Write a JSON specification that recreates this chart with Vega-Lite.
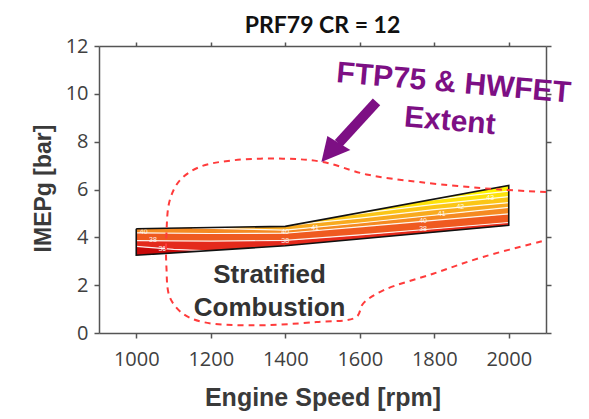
{
  "$schema": "https://vega.github.io/schema/vega-lite/v6.json",
  "width": 447,
  "height": 287,
  "autosize": {"type": "none"},
  "padding": {"left": 99, "top": 46, "right": 43, "bottom": 86},
  "background": "white",
  "config": {"view": {"stroke": null}, "axis": {"grid": false, "labelFlush": false, "labelOverlap": false}},
  "title": {"text": "PRF79 CR = 12", "font": "Lato", "fontSize": 23, "fontWeight": "bold", "color": "#111111", "anchor": "middle", "offset": -2},
  "datasets": {
    "bands": [
      {"band": "b0", "x": 1000, "y": 3.25, "y2": 3.62},
      {"band": "b0", "x": 1100, "y": 3.35, "y2": 3.5},
      {"band": "b0", "x": 1190, "y": 3.44, "y2": 3.44},
      {"band": "b1", "x": 1000, "y": 3.62, "y2": 3.86},
      {"band": "b1", "x": 1100, "y": 3.5, "y2": 3.85},
      {"band": "b1", "x": 1190, "y": 3.44, "y2": 3.842},
      {"band": "b1", "x": 1400, "y": 3.65, "y2": 3.87},
      {"band": "b1", "x": 1600, "y": 3.933, "y2": 4.1},
      {"band": "b1", "x": 1800, "y": 4.217, "y2": 4.36},
      {"band": "b1", "x": 2000, "y": 4.5, "y2": 4.62},
      {"band": "b2", "x": 1000, "y": 3.86, "y2": 4.19},
      {"band": "b2", "x": 1200, "y": 3.84, "y2": 4.16},
      {"band": "b2", "x": 1400, "y": 3.87, "y2": 4.17},
      {"band": "b2", "x": 1600, "y": 4.1, "y2": 4.44},
      {"band": "b2", "x": 1800, "y": 4.36, "y2": 4.71},
      {"band": "b2", "x": 2000, "y": 4.62, "y2": 4.98},
      {"band": "b3", "x": 1000, "y": 4.19, "y2": 4.36},
      {"band": "b3", "x": 1150, "y": 4.168, "y2": 4.3975},
      {"band": "b3", "x": 1400, "y": 4.17, "y2": 4.3},
      {"band": "b3", "x": 1600, "y": 4.44, "y2": 4.6},
      {"band": "b3", "x": 1800, "y": 4.71, "y2": 4.925},
      {"band": "b3", "x": 2000, "y": 4.98, "y2": 5.25},
      {"band": "b4", "x": 1150, "y": 4.3975, "y2": 4.3975},
      {"band": "b4", "x": 1400, "y": 4.3, "y2": 4.46},
      {"band": "b4", "x": 1420, "y": 4.33, "y2": 4.517},
      {"band": "b4", "x": 1600, "y": 4.6, "y2": 4.8},
      {"band": "b4", "x": 1800, "y": 4.925, "y2": 5.16},
      {"band": "b4", "x": 2000, "y": 5.25, "y2": 5.45},
      {"band": "b5", "x": 1420, "y": 4.517, "y2": 4.517},
      {"band": "b5", "x": 1560, "y": 4.737, "y2": 4.916},
      {"band": "b5", "x": 1600, "y": 4.8, "y2": 4.993},
      {"band": "b5", "x": 1800, "y": 5.16, "y2": 5.38},
      {"band": "b5", "x": 2000, "y": 5.45, "y2": 5.7},
      {"band": "b6", "x": 1560, "y": 4.916, "y2": 4.916},
      {"band": "b6", "x": 1600, "y": 4.993, "y2": 5.03},
      {"band": "b6", "x": 1780, "y": 5.341, "y2": 5.543},
      {"band": "b6", "x": 1800, "y": 5.38, "y2": 5.578},
      {"band": "b6", "x": 2000, "y": 5.7, "y2": 5.93},
      {"band": "b7", "x": 1780, "y": 5.543, "y2": 5.543},
      {"band": "b7", "x": 1800, "y": 5.578, "y2": 5.6},
      {"band": "b7", "x": 2000, "y": 5.93, "y2": 6.17}
    ],
    "contours": [
      {"level": "36", "x": 1000, "y": 3.62},
      {"level": "36", "x": 1100, "y": 3.5},
      {"level": "36", "x": 1190, "y": 3.44},
      {"level": "38", "x": 1000, "y": 3.86},
      {"level": "38", "x": 1200, "y": 3.84},
      {"level": "38", "x": 1400, "y": 3.87},
      {"level": "38", "x": 1600, "y": 4.1},
      {"level": "38", "x": 1800, "y": 4.36},
      {"level": "38", "x": 2000, "y": 4.62},
      {"level": "40", "x": 1000, "y": 4.19},
      {"level": "40", "x": 1200, "y": 4.16},
      {"level": "40", "x": 1400, "y": 4.17},
      {"level": "40", "x": 1600, "y": 4.44},
      {"level": "40", "x": 1800, "y": 4.71},
      {"level": "40", "x": 2000, "y": 4.98},
      {"level": "41", "x": 1150, "y": 4.3975},
      {"level": "41", "x": 1400, "y": 4.3},
      {"level": "41", "x": 1600, "y": 4.6},
      {"level": "41", "x": 2000, "y": 5.25},
      {"level": "42", "x": 1420, "y": 4.517},
      {"level": "42", "x": 1600, "y": 4.8},
      {"level": "42", "x": 1800, "y": 5.16},
      {"level": "42", "x": 2000, "y": 5.45},
      {"level": "43", "x": 1560, "y": 4.916},
      {"level": "43", "x": 1800, "y": 5.38},
      {"level": "43", "x": 2000, "y": 5.7},
      {"level": "44", "x": 1780, "y": 5.543},
      {"level": "44", "x": 2000, "y": 5.93}
    ],
    "outline": [
      {"i": 0, "x": 1000, "y": 4.36},
      {"i": 1, "x": 1400, "y": 4.46},
      {"i": 2, "x": 2000, "y": 6.17},
      {"i": 3, "x": 2000, "y": 4.5},
      {"i": 4, "x": 1400, "y": 3.65},
      {"i": 5, "x": 1000, "y": 3.25},
      {"i": 6, "x": 1000, "y": 4.36}
    ],
    "clabels": [
      {"t": "40", "x": 1020, "y": 4.22},
      {"t": "38", "x": 1045, "y": 3.87},
      {"t": "36", "x": 1070, "y": 3.53},
      {"t": "40", "x": 1400, "y": 4.22},
      {"t": "38", "x": 1400, "y": 3.85},
      {"t": "41", "x": 1480, "y": 4.4},
      {"t": "38", "x": 1770, "y": 4.33},
      {"t": "40", "x": 1770, "y": 4.7},
      {"t": "41", "x": 1820, "y": 4.97},
      {"t": "42", "x": 1870, "y": 5.27},
      {"t": "43", "x": 1950, "y": 5.66}
    ],
    "extent": [
      {"i": 1, "x": 2100, "y": 5.9},
      {"i": 2, "x": 1976, "y": 6.0},
      {"i": 3, "x": 1761, "y": 6.31},
      {"i": 4, "x": 1618, "y": 6.63},
      {"i": 5, "x": 1501, "y": 7.15},
      {"i": 6, "x": 1394, "y": 7.29},
      {"i": 7, "x": 1260, "y": 7.22},
      {"i": 8, "x": 1170, "y": 6.94},
      {"i": 9, "x": 1117, "y": 6.38},
      {"i": 10, "x": 1090, "y": 5.55},
      {"i": 11, "x": 1081, "y": 4.15},
      {"i": 12, "x": 1081, "y": 2.76},
      {"i": 13, "x": 1090, "y": 1.5},
      {"i": 14, "x": 1125, "y": 0.81},
      {"i": 15, "x": 1179, "y": 0.46},
      {"i": 16, "x": 1305, "y": 0.32},
      {"i": 17, "x": 1484, "y": 0.46},
      {"i": 18, "x": 1591, "y": 0.67},
      {"i": 19, "x": 1609, "y": 1.23},
      {"i": 20, "x": 1663, "y": 1.78},
      {"i": 21, "x": 1797, "y": 2.48},
      {"i": 22, "x": 1931, "y": 3.18},
      {"i": 23, "x": 2100, "y": 3.88}
    ],
    "shaft": [{"x": 1645, "y": 9.66, "x2": 1543, "y2": 7.93}],
    "tip": [{"x": 1497, "y": 7.15}],
    "purple": [
      {"t": "FTP75 & HWFET", "x": 1852, "y": 10.44},
      {"t": "Extent", "x": 1842, "y": 8.85}
    ],
    "dark": [
      {"t": "Stratified", "x": 1358, "y": 2.07},
      {"t": "Combustion", "x": 1358, "y": 0.72}
    ]
  },
  "layer": [
    {
      "data": {"name": "bands"},
      "mark": {"type": "area", "interpolate": "linear"},
      "encoding": {
        "x": {"field": "x", "type": "quantitative", "scale": {"domain": [900, 2100], "nice": false, "zero": false},
          "axis": {"orient": "bottom", "values": [1000, 1200, 1400, 1600, 1800, 2000], "format": "d", "labelFont": "Open Sans", "labelFontSize": 20, "labelColor": "#404040", "labelBaseline": "alphabetic", "labelPadding": 27, "tickSize": 5, "tickColor": "#555555", "tickWidth": 1.5, "domainColor": "#555555", "domainWidth": 1.5, "title": "Engine Speed [rpm]", "titleFont": "Liberation Sans", "titleFontSize": 25, "titleFontWeight": "bold", "titleColor": "#3a3a3a", "titleBaseline": "alphabetic", "titleY": 72, "titleX": 223.5, "titleAlign": "center"}},
        "y": {"field": "y", "type": "quantitative", "stack": null, "scale": {"domain": [0, 12], "nice": false, "zero": false},
          "axis": {"orient": "left", "values": [0, 2, 4, 6, 8, 10, 12], "labelFont": "Open Sans", "labelFontSize": 20, "labelColor": "#404040", "labelPadding": 6, "tickSize": 5, "tickColor": "#555555", "tickWidth": 1.5, "domainColor": "#555555", "domainWidth": 1.5, "title": "IMEPg [bar]", "titleFont": "Liberation Sans", "titleFontSize": 23, "titleFontWeight": "bold", "titleColor": "#3a3a3a", "titleAngle": -90, "titleBaseline": "alphabetic", "titleAlign": "center", "titleX": -49, "titleY": 142}},
        "y2": {"field": "y2"},
        "color": {"field": "band", "type": "nominal", "legend": null,
          "scale": {"domain": ["b0", "b1", "b2", "b3", "b4", "b5", "b6", "b7"], "range": ["#c80a0a", "#e42a1c", "#ef5a20", "#f58a22", "#f8aa1e", "#fbc616", "#fde20c", "#fff500"]}}
      }
    },
    {
      "data": {"name": "contours"},
      "mark": {"type": "line", "color": "#ffffff", "strokeWidth": 1.2, "opacity": 0.9},
      "encoding": {
        "x": {"field": "x", "type": "quantitative", "scale": {"domain": [900, 2100], "nice": false, "zero": false},
          "axis": {"orient": "top", "values": [1000, 1200, 1400, 1600, 1800, 2000], "labels": false, "title": null, "tickSize": 4, "tickColor": "#555555", "tickWidth": 1.5, "domainColor": "#555555", "domainWidth": 1.5}},
        "y": {"field": "y", "type": "quantitative", "scale": {"domain": [0, 12], "nice": false, "zero": false},
          "axis": {"orient": "right", "values": [0, 2, 4, 6, 8, 10, 12], "labels": false, "title": null, "tickSize": 5, "tickColor": "#555555", "tickWidth": 1.5, "domainColor": "#555555", "domainWidth": 1.5}},
        "detail": {"field": "level", "type": "nominal"}
      }
    },
    {
      "data": {"name": "clabels"},
      "mark": {"type": "text", "color": "#ffffff", "fontSize": 7, "font": "Liberation Sans", "opacity": 0.9},
      "encoding": {
        "x": {"field": "x", "type": "quantitative", "scale": {"domain": [900, 2100], "nice": false, "zero": false}, "axis": null},
        "y": {"field": "y", "type": "quantitative", "scale": {"domain": [0, 12], "nice": false, "zero": false}, "axis": null},
        "text": {"field": "t"}
      }
    },
    {
      "data": {"name": "outline"},
      "mark": {"type": "line", "color": "#111111", "strokeWidth": 1.6, "strokeJoin": "miter"},
      "encoding": {
        "x": {"field": "x", "type": "quantitative", "scale": {"domain": [900, 2100], "nice": false, "zero": false}, "axis": null},
        "y": {"field": "y", "type": "quantitative", "scale": {"domain": [0, 12], "nice": false, "zero": false}, "axis": null},
        "order": {"field": "i", "type": "quantitative"}
      }
    },
    {
      "data": {"name": "extent"},
      "mark": {"type": "line", "color": "#ff3b3b", "strokeWidth": 2, "strokeDash": [6, 5], "interpolate": "catmull-rom"},
      "encoding": {
        "x": {"field": "x", "type": "quantitative", "scale": {"domain": [900, 2100], "nice": false, "zero": false}, "axis": null},
        "y": {"field": "y", "type": "quantitative", "scale": {"domain": [0, 12], "nice": false, "zero": false}, "axis": null},
        "order": {"field": "i", "type": "quantitative"}
      }
    },
    {
      "data": {"name": "shaft"},
      "mark": {"type": "rule", "color": "#7d0f84", "strokeWidth": 10, "strokeCap": "butt"},
      "encoding": {
        "x": {"field": "x", "type": "quantitative", "scale": {"domain": [900, 2100], "nice": false, "zero": false}, "axis": null},
        "y": {"field": "y", "type": "quantitative", "scale": {"domain": [0, 12], "nice": false, "zero": false}, "axis": null},
        "x2": {"field": "x2"},
        "y2": {"field": "y2"}
      }
    },
    {
      "data": {"name": "tip"},
      "mark": {"type": "point", "shape": "M0,0 L6,-26 L29,-12 Z", "size": 4, "filled": true, "color": "#7d0f84", "opacity": 1},
      "encoding": {
        "x": {"field": "x", "type": "quantitative", "scale": {"domain": [900, 2100], "nice": false, "zero": false}, "axis": null},
        "y": {"field": "y", "type": "quantitative", "scale": {"domain": [0, 12], "nice": false, "zero": false}, "axis": null}
      }
    },
    {
      "data": {"name": "purple"},
      "mark": {"type": "text", "color": "#7d0f84", "font": "Liberation Sans", "fontWeight": "bold", "fontSize": 30, "angle": 5, "align": "center", "baseline": "middle"},
      "encoding": {
        "x": {"field": "x", "type": "quantitative", "scale": {"domain": [900, 2100], "nice": false, "zero": false}, "axis": null},
        "y": {"field": "y", "type": "quantitative", "scale": {"domain": [0, 12], "nice": false, "zero": false}, "axis": null},
        "text": {"field": "t"}
      }
    },
    {
      "data": {"name": "dark"},
      "mark": {"type": "text", "color": "#333333", "font": "Liberation Sans", "fontWeight": "bold", "fontSize": 26, "align": "center", "baseline": "alphabetic"},
      "encoding": {
        "x": {"field": "x", "type": "quantitative", "scale": {"domain": [900, 2100], "nice": false, "zero": false}, "axis": null},
        "y": {"field": "y", "type": "quantitative", "scale": {"domain": [0, 12], "nice": false, "zero": false}, "axis": null},
        "text": {"field": "t"}
      }
    }
  ],
  "resolve": {"axis": {"x": "independent", "y": "independent"}}
}
